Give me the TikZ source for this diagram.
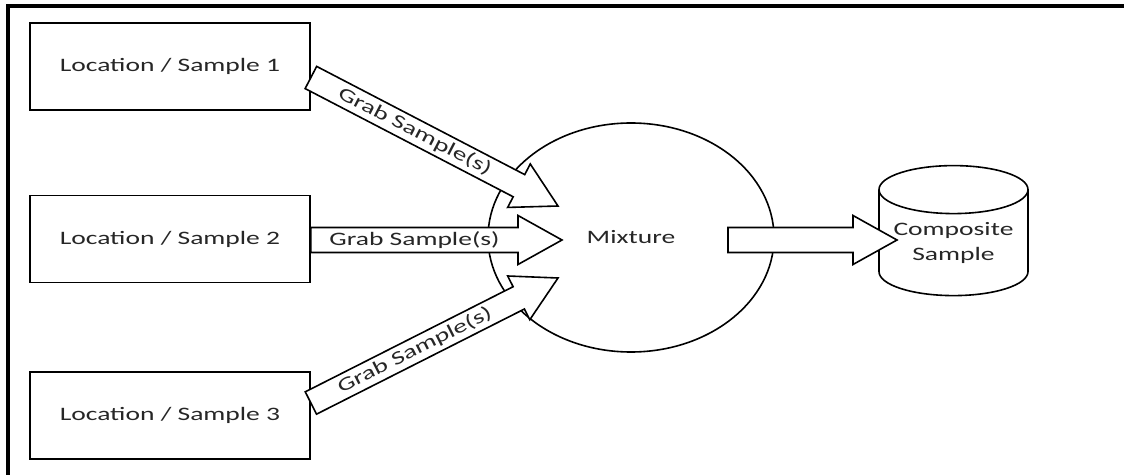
\documentclass[tikz,border=0pt]{standalone}
\usepackage{fontspec}
\setmainfont{Carlito}[FakeStretch=1.45]
\usetikzlibrary{calc,shapes.geometric}

% block arrow: #1 tail, #2 tip, #3 text in the shaft
\newcommand{\fatarrow}[3]{%
  \coordinate (h) at ($(#2)!22pt!(#1)$);
  \filldraw[fatline] ($(#1)!6.25pt!90:(#2)$) -- ($(h)!6.25pt!-90:(#1)$)
    -- ($(h)!12.25pt!-90:(#1)$) -- (#2) -- ($(h)!12.25pt!90:(#1)$)
    -- ($(h)!6.25pt!90:(#1)$) -- ($(#1)!6.25pt!-90:(#2)$) -- cycle;
  \path (#1) -- (h) node[midway, sloped, inner sep=0pt] {#3};
}

\begin{document}
\begin{tikzpicture}[x=0.5pt, y=-0.5pt,
    every node/.style={font=\fontsize{9.5}{12.5}\selectfont, text=black!85},
    locbox/.style={draw, line width=0.9pt, minimum width=140pt, minimum height=43.5pt},
    fatline/.style={draw=black, fill=white, line width=0.8pt, line join=miter}]
  \useasboundingbox (0,0) rectangle (1124,475);

  % frame, only top and left are shown
  \draw[line width=2pt] (7.5,476) -- (7.5,6.5) -- (1125,6.5);

  % the three locations
  \node[locbox] (loc1) at (170,66.5) {Location / Sample 1};
  \node[locbox] (loc2) at (170,239) {Location / Sample 2};
  \node[locbox] (loc3) at (170,415.5) {Location / Sample 3};

  % mixture and composite
  \node[ellipse, draw, line width=0.8pt, minimum width=143pt, minimum height=114.5pt, inner sep=0pt] (mix) at (631,237.5) {Mixture};
  \node[cylinder, draw, line width=0.8pt, shape border rotate=90, aspect=0.4,
        minimum width=74.5pt, minimum height=65pt, inner sep=0pt, align=center] (comp) at (953.5,243) {Composite\\Sample};

  \coordinate (tail1) at ($(loc1.east)+(0,11)$);
  \coordinate (tail2) at ($(loc2.east)+(0,1)$);
  \coordinate (tail3) at ($(loc3.east)+(0,-12.5)$);
  \coordinate (tip1) at (558,206);
  \coordinate (tip2) at (562,240);
  \coordinate (tip3) at (558,278);
  \coordinate (out) at (728,240);
  \coordinate (tipc) at (897,240);

  \fatarrow{tail1}{tip1}{Grab Sample(s)}
  \fatarrow{tail2}{tip2}{Grab Sample(s)}
  \fatarrow{tail3}{tip3}{Grab Sample(s)}
  \fatarrow{out}{tipc}{}
\end{tikzpicture}
\end{document}
